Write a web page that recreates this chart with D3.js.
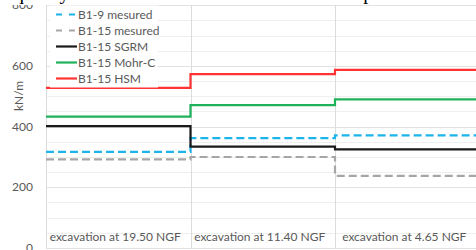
<!DOCTYPE html>
<html>
<head>
<meta charset="utf-8">
<script src="https://cdn.jsdelivr.net/npm/d3@7"></script>
<style>
	body { margin: 0; background: #fff; }
	svg { display: block; }
	text { font-family: Lato, "Open Sans", sans-serif; fill: #595959; }
	.caption { font-family: "Liberation Serif", serif; fill: #000; }
</style>
</head>
<body>
<div id="chart"></div>
<script>
/* Data */

var categories = ["excavation at 19.50 NGF", "excavation at 11.40 NGF", "excavation at 4.65 NGF"];

var seriesNames = ["B1-9 mesured", "B1-15 mesured", "B1-15 SGRM", "B1-15 Mohr-C", "B1-15 HSM"];

var b19Mesured  = [317, 362, 371],
	b115Mesured = [292, 300, 238],
	b115Sgrm    = [402, 334, 325],
	b115Mohr    = [433, 471, 490],
	b115Hsm     = [528, 573, 587];

var yTicks = [0, 200, 400, 600, 800];

/* Measures */

var W = 476,
	H = 250;

var PLOT = { left: 46, right: 479.5, top: 5.3, bottom: 248 };

var LEGEND = { x: 56, y: 14.5, lineWidth: 21, rowHeight: 16 };

var CAPTION_STRIP = 5;

var series = [
	{ name: seriesNames[0], values: b19Mesured,  color: "#1cb4ec", dash: "8,4" },
	{ name: seriesNames[1], values: b115Mesured, color: "#a6a6a6", dash: "8,4" },
	{ name: seriesNames[2], values: b115Sgrm,    color: "#1a1a1a", dash: null },
	{ name: seriesNames[3], values: b115Mohr,    color: "#1fb25a", dash: null },
	{ name: seriesNames[4], values: b115Hsm,     color: "#ff3333", dash: null }
];

var svg = d3.select("#chart").append("svg")
	.attr("width", W)
	.attr("height", H);

var x = d3.scaleLinear().domain([0, categories.length]).range([PLOT.left, PLOT.right]);
var y = d3.scaleLinear().domain([0, 800]).range([PLOT.bottom, PLOT.top]);

// gridlines every 50
svg.append("g")
	.selectAll("line")
	.data(d3.range(0, 801, 50))
	.enter().append("line")
	.attr("x1", PLOT.left)
	.attr("x2", W)
	.attr("y1", function(d) { return Math.round(y(d)) + 0.5; })
	.attr("y2", function(d) { return Math.round(y(d)) + 0.5; })
	.attr("stroke", function(d) { return d % 200 === 0 ? "#e2e2e2" : "#efefef"; })
	.attr("stroke-width", 1);

// category dividers
svg.append("g")
	.selectAll("line")
	.data(d3.range(0, categories.length + 1))
	.enter().append("line")
	.attr("x1", function(d) { return Math.round(x(d)) + 0.5; })
	.attr("x2", function(d) { return Math.round(x(d)) + 0.5; })
	.attr("y1", PLOT.top)
	.attr("y2", PLOT.bottom)
	.attr("stroke", "#dcdcdc");

// y axis labels
svg.append("g")
	.selectAll("text")
	.data(yTicks)
	.enter().append("text")
	.attr("x", 33)
	.attr("y", function(d) { return y(d) + 4; })
	.attr("text-anchor", "end")
	.style("font-size", "12px")
	.text(String);

svg.append("text")
	.attr("transform", "translate(23 96) rotate(-90)")
	.attr("text-anchor", "middle")
	.style("font-size", "12px")
	.text("kN/m");

// category labels
svg.append("g")
	.selectAll("text")
	.data(categories)
	.enter().append("text")
	.attr("x", function(d, i) { return x(i + 0.5) - 3; })
	.attr("y", 241)
	.attr("text-anchor", "middle")
	.style("font-size", "12px")
	.text(String);

// step lines
var line = d3.line()
	.x(function(d) { return x(d.i); })
	.y(function(d) { return y(d.v); })
	.curve(d3.curveStepAfter);

svg.append("g")
	.selectAll("path")
	.data(series)
	.enter().append("path")
	.attr("fill", "none")
	.attr("stroke", function(d) { return d.color; })
	.attr("stroke-width", 2.2)
	.attr("stroke-dasharray", function(d) { return d.dash; })
	.attr("d", function(d) {
		var pts = d.values.map(function(v, i) { return { i: i, v: v }; });
		pts.push({ i: d.values.length, v: d.values[d.values.length - 1] });
		return line(pts);
	});

// legend
var legend = svg.append("g")
	.attr("transform", "translate(" + LEGEND.x + " " + LEGEND.y + ")");

legend.append("rect")
	.attr("x", -6)
	.attr("y", -9)
	.attr("width", 108)
	.attr("height", LEGEND.rowHeight * series.length + 2)
	.attr("fill", "#fff");

var rows = legend.selectAll("g")
	.data(series)
	.enter().append("g")
	.attr("transform", function(d, i) { return "translate(0 " + (i * LEGEND.rowHeight) + ")"; });

rows.append("line")
	.attr("x1", 0)
	.attr("x2", LEGEND.lineWidth)
	.attr("stroke", function(d) { return d.color; })
	.attr("stroke-width", 2.2)
	.attr("stroke-dasharray", function(d) { return d.dash ? "6,7" : null; });

rows.append("text")
	.attr("x", LEGEND.lineWidth + 1)
	.attr("y", 4.5)
	.style("font-size", "12px")
	.text(function(d) { return d.name; });

// strip of the document page above the figure: it hides the top of the chart
svg.append("rect")
	.attr("width", W)
	.attr("height", CAPTION_STRIP)
	.attr("fill", "#fff");

svg.append("text")
	.classed("caption", true)
	.attr("x", 14)
	.attr("y", -1)
	.style("font-size", "20px")
	.text("quality of the results with the excavation depth");
</script>
</body>
</html>
